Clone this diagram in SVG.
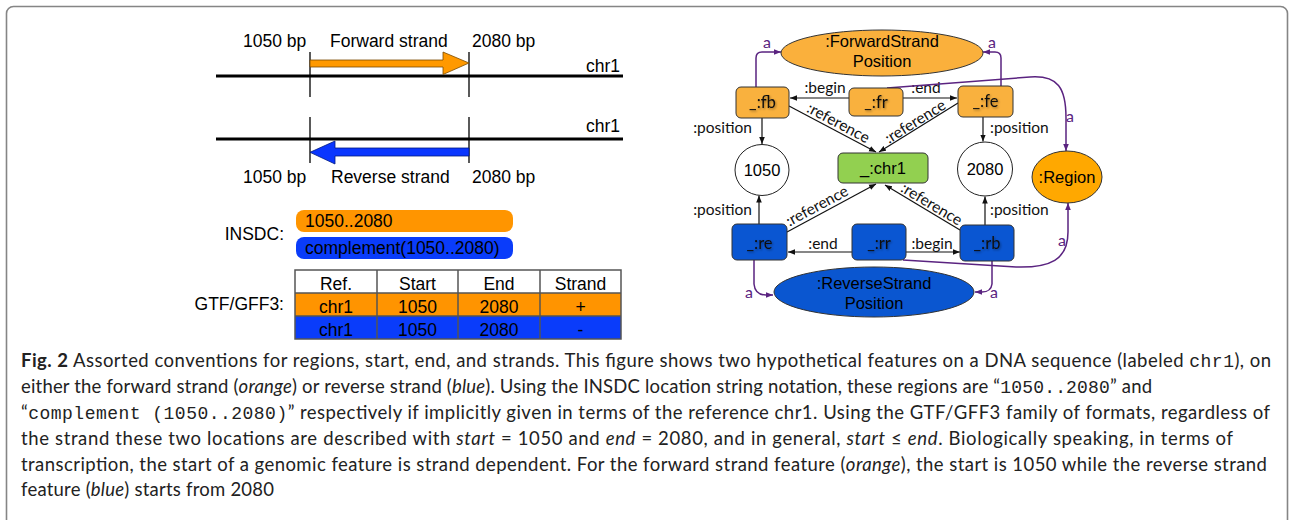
<svg xmlns="http://www.w3.org/2000/svg" width="1289" height="520" viewBox="0 0 1289 520">
<style>
.l{font-family:"Liberation Sans",Arial,sans-serif;font-size:17.5px;fill:#000}
.g{font-family:"Liberation Sans",Arial,sans-serif;font-size:16.5px;fill:#000}
.gs{font-family:Lato,"Open Sans",sans-serif;font-size:15.5px;fill:#111}
.bx{font-family:Lato,"Open Sans",sans-serif;font-size:16.5px;fill:#111;text-anchor:middle}
.pa{font-family:Lato,"Open Sans",sans-serif;font-size:16px;fill:#5a2380}
.m{text-anchor:middle}
.e{text-anchor:end}
.cap{font-family:Lato,"Open Sans",sans-serif;font-size:18.5px;fill:#222}
.mono{font-family:"Liberation Mono","Courier New",monospace;font-size:18px}
.it{font-style:italic}
.conn{fill:none;stroke:#111;stroke-width:1.2}
.pl{fill:none;stroke:#5a2380;stroke-width:1.5}
.node{stroke:#333;stroke-width:1}
.ob{fill:#f9b13e}
.bb{fill:#0a56d2}
.tick{stroke:#000;stroke-width:1.3}
.chr{stroke:#000;stroke-width:3}
.tb{fill:none;stroke:#555;stroke-width:1.5}
</style>
<defs>
<marker id="ah" viewBox="0 0 10 10" refX="10" refY="5" markerWidth="7" markerHeight="7" orient="auto" markerUnits="userSpaceOnUse"><path d="M0,1 L10,5 L0,9 z" fill="#111"/></marker>
<marker id="ap" viewBox="0 0 10 10" refX="10" refY="5" markerWidth="7" markerHeight="7" orient="auto" markerUnits="userSpaceOnUse"><path d="M0,1 L10,5 L0,9 z" fill="#5a2380"/></marker>
<filter id="ts" x="-20%" y="-20%" width="140%" height="140%"><feDropShadow dx="1" dy="1.2" stdDeviation="0.8" flood-color="#000" flood-opacity="0.4"/></filter>
</defs>

<rect x="6.5" y="6.5" width="1281" height="540" rx="7" fill="#fff" stroke="#858585" stroke-width="1.6"/>

<g id="strand-diagram">
<line class="chr" x1="216" y1="76" x2="623" y2="76"/>
<line class="chr" x1="216" y1="139" x2="623" y2="139"/>
<line class="tick" x1="310" y1="52" x2="310" y2="97"/>
<line class="tick" x1="469" y1="52" x2="469" y2="97"/>
<line class="tick" x1="310" y1="117" x2="310" y2="163"/>
<line class="tick" x1="469" y1="117" x2="469" y2="163"/>
<polygon points="310,60 443,60 443,52 469,63 443,74.5 443,67 310,67" fill="#ff9900" stroke="#7a4a00" stroke-width="0.8"/>
<polygon points="469,148 335,148 335,141 310,152.3 335,164 335,156 469,156" fill="#0a36ff" stroke="#001a80" stroke-width="0.8"/>
<text class="l" x="243" y="47">1050 bp</text>
<text class="l" x="330" y="47">Forward strand</text>
<text class="l" x="472" y="47">2080 bp</text>
<text class="l e" x="620" y="71.5">chr1</text>
<text class="l e" x="620" y="131.5">chr1</text>
<text class="l" x="243" y="183">1050 bp</text>
<text class="l" x="331" y="183">Reverse strand</text>
<text class="l" x="472" y="183">2080 bp</text>
</g>

<g id="insdc">
<text class="l e" x="284" y="240">INSDC:</text>
<rect x="296" y="210" width="217" height="22" rx="8" fill="#ff9500"/>
<text class="l" x="305" y="227">1050..2080</text>
<rect x="296" y="237" width="217" height="22" rx="8" fill="#0a3cfa"/>
<text class="l" x="305" y="254">complement(1050..2080)</text>
</g>

<g id="gtf-table">
<text class="l e" x="284" y="309.5">GTF/GFF3:</text>
<rect x="295" y="270" width="326" height="23" fill="#fff"/>
<rect x="295" y="293" width="326" height="23" fill="#ff9400"/>
<rect x="295" y="316" width="326" height="23" fill="#0a3cfa"/>
<rect class="tb" x="295" y="270" width="326" height="69"/>
<line class="tb" x1="295" y1="293" x2="621" y2="293"/>
<line class="tb" x1="295" y1="316" x2="621" y2="316"/>
<line class="tb" x1="377" y1="270" x2="377" y2="339"/>
<line class="tb" x1="458" y1="270" x2="458" y2="339"/>
<line class="tb" x1="540" y1="270" x2="540" y2="339"/>
<text class="l m" x="336" y="289.5">Ref.</text>
<text class="l m" x="417.5" y="289.5">Start</text>
<text class="l m" x="499" y="289.5">End</text>
<text class="l m" x="580.5" y="289.5">Strand</text>
<text class="l m" x="336" y="313">chr1</text>
<text class="l m" x="417.5" y="313">1050</text>
<text class="l m" x="499" y="313">2080</text>
<text class="l m" x="580.5" y="313">+</text>
<text class="l m" x="336" y="336">chr1</text>
<text class="l m" x="417.5" y="336">1050</text>
<text class="l m" x="499" y="336">2080</text>
<text class="l m" x="580.5" y="336">-</text>
</g>

<g id="connectors">
<line class="conn" x1="849" y1="98" x2="790" y2="98" marker-end="url(#ah)"/>
<text class="gs m" x="825" y="93">:begin</text>
<line class="conn" x1="903" y1="98" x2="957" y2="98" marker-end="url(#ah)"/>
<text class="gs m" x="926" y="93">:end</text>
<line class="conn" x1="789" y1="106" x2="876" y2="152" marker-end="url(#ah)"/>
<text class="gs m" transform="translate(836,127.5) rotate(27.9)">:reference</text>
<line class="conn" x1="958" y1="103" x2="879" y2="152" marker-end="url(#ah)"/>
<text class="gs m" transform="translate(918,126) rotate(-31.8)">:reference</text>
<line class="conn" x1="787" y1="232" x2="876" y2="184" marker-end="url(#ah)"/>
<text class="gs m" transform="translate(819.5,210.5) rotate(-28.3)">:reference</text>
<line class="conn" x1="960" y1="230" x2="885" y2="185" marker-end="url(#ah)"/>
<text class="gs m" transform="translate(929,208.5) rotate(31)">:reference</text>
<line class="conn" x1="762" y1="118" x2="762" y2="144" marker-end="url(#ah)"/>
<text class="gs e" x="752" y="133">:position</text>
<line class="conn" x1="983" y1="117" x2="983" y2="141.5" marker-end="url(#ah)"/>
<text class="gs" x="990" y="133">:position</text>
<line class="conn" x1="759" y1="224" x2="759" y2="195.5" marker-end="url(#ah)"/>
<text class="gs e" x="752" y="215">:position</text>
<line class="conn" x1="985" y1="225" x2="985" y2="196.5" marker-end="url(#ah)"/>
<text class="gs" x="990" y="215">:position</text>
<line class="conn" x1="852" y1="252" x2="788" y2="252" marker-end="url(#ah)"/>
<text class="gs m" x="823" y="249">:end</text>
<line class="conn" x1="906" y1="252" x2="960" y2="252" marker-end="url(#ah)"/>
<text class="gs m" x="932" y="249">:begin</text>
<path class="pl" d="M756,87 L756,58 Q756,52 762,52 L781,52" marker-end="url(#ap)"/>
<text class="pa m" x="767" y="48">a</text>
<path class="pl" d="M1001,86 L1001,58 Q1001,52 995,52 L983,52" marker-end="url(#ap)"/>
<text class="pa m" x="992" y="48">a</text>
<path class="pl" d="M887,88 L1030,77 C1058,75 1066,88 1066,118 L1066,151" marker-end="url(#ap)"/>
<text class="pa m" x="1070" y="122">a</text>
<path class="pl" d="M754,260 L754,284 Q755,295 766,295 L773,295" marker-end="url(#ap)"/>
<text class="pa m" x="749" y="298">a</text>
<path class="pl" d="M992,261 L992,284 Q991,292 982,292 L975,292" marker-end="url(#ap)"/>
<text class="pa m" x="994" y="298">a</text>
<path class="pl" d="M903,260 L1016,267 C1050,268 1068,260 1068,232 L1068,203" marker-end="url(#ap)"/>
<text class="pa m" x="1062" y="246">a</text>
</g>

<g id="fsp">
<ellipse class="node" cx="882" cy="53" rx="101" ry="23" fill="#fab03c"/>
<text class="g m" x="882" y="47">:ForwardStrand</text>
<text class="g m" x="882" y="67">Position</text>
</g>
<g id="rsp">
<ellipse class="node" cx="874" cy="292" rx="100" ry="25" fill="#0a56d0"/>
<text class="g m" x="874" y="289">:ReverseStrand</text>
<text class="g m" x="874" y="309">Position</text>
</g>
<g id="region">
<ellipse class="node" cx="1067" cy="177" rx="35" ry="26" fill="#ffa800"/>
<text class="g m" x="1067" y="183">:Region</text>
</g>
<g id="chr1">
<rect class="node" x="838" y="153" width="90" height="30" rx="5" fill="#92d050"/>
<text class="g m" x="883" y="174">_:chr1</text>
</g>
<g id="n1050">
<ellipse cx="762" cy="170" rx="27" ry="25.5" fill="#fff" stroke="#222" stroke-width="1"/>
<text class="g m" x="762" y="176">1050</text>
</g>
<g id="n2080">
<ellipse cx="985" cy="169" rx="27.5" ry="27" fill="#fff" stroke="#222" stroke-width="1"/>
<text class="g m" x="985" y="175">2080</text>
</g>
<g id="fb">
<rect class="node ob" x="736" y="87" width="53" height="31" rx="5"/>
<text class="bx" x="762.5" y="108" filter="url(#ts)">_:fb</text>
</g>
<g id="fr">
<rect class="node ob" x="849" y="88" width="54" height="28" rx="5"/>
<text class="bx" x="876" y="108" filter="url(#ts)">_:fr</text>
</g>
<g id="fe">
<rect class="node ob" x="958" y="86" width="55" height="31" rx="5"/>
<text class="bx" x="985.5" y="107" filter="url(#ts)">_:fe</text>
</g>
<g id="re">
<rect class="node bb" x="732" y="224" width="55" height="36" rx="5"/>
<text class="bx" x="759.5" y="249" filter="url(#ts)">_:re</text>
</g>
<g id="rr">
<rect class="node bb" x="852" y="224" width="54" height="36" rx="5"/>
<text class="bx" x="879" y="249" filter="url(#ts)">_:rr</text>
</g>
<g id="rb">
<rect class="node bb" x="960" y="225" width="54" height="36" rx="5"/>
<text class="bx" x="987" y="249" filter="url(#ts)">_:rb</text>
</g>

<g id="caption">
<text class="cap" x="21" y="367" textLength="1250" lengthAdjust="spacing"><tspan font-weight="bold">Fig. 2</tspan> Assorted conventions for regions, start, end, and strands. This figure shows two hypothetical features on a DNA sequence (labeled <tspan class="mono">chr1</tspan>), on</text>
<text class="cap" x="21" y="393" textLength="1131" lengthAdjust="spacing">either the forward strand (<tspan class="it">orange</tspan>) or reverse strand (<tspan class="it">blue</tspan>). Using the INSDC location string notation, these regions are “<tspan class="mono">1050..2080</tspan>” and</text>
<text class="cap" x="21" y="419" textLength="1249" lengthAdjust="spacing">“<tspan class="mono">complement (1050..2080)</tspan>” respectively if implicitly given in terms of the reference chr1. Using the GTF/GFF3 family of formats, regardless of</text>
<text class="cap" x="21" y="445" textLength="1212" lengthAdjust="spacing">the strand these two locations are described with <tspan class="it">start</tspan> = 1050 and <tspan class="it">end</tspan> = 2080, and in general, <tspan class="it">start</tspan> ≤ <tspan class="it">end</tspan>. Biologically speaking, in terms of</text>
<text class="cap" x="21" y="471" textLength="1246" lengthAdjust="spacing">transcription, the start of a genomic feature is strand dependent. For the forward strand feature (<tspan class="it">orange</tspan>), the start is 1050 while the reverse strand</text>
<text class="cap" x="21" y="496" textLength="253" lengthAdjust="spacing">feature (<tspan class="it">blue</tspan>) starts from 2080</text>
</g>
</svg>
